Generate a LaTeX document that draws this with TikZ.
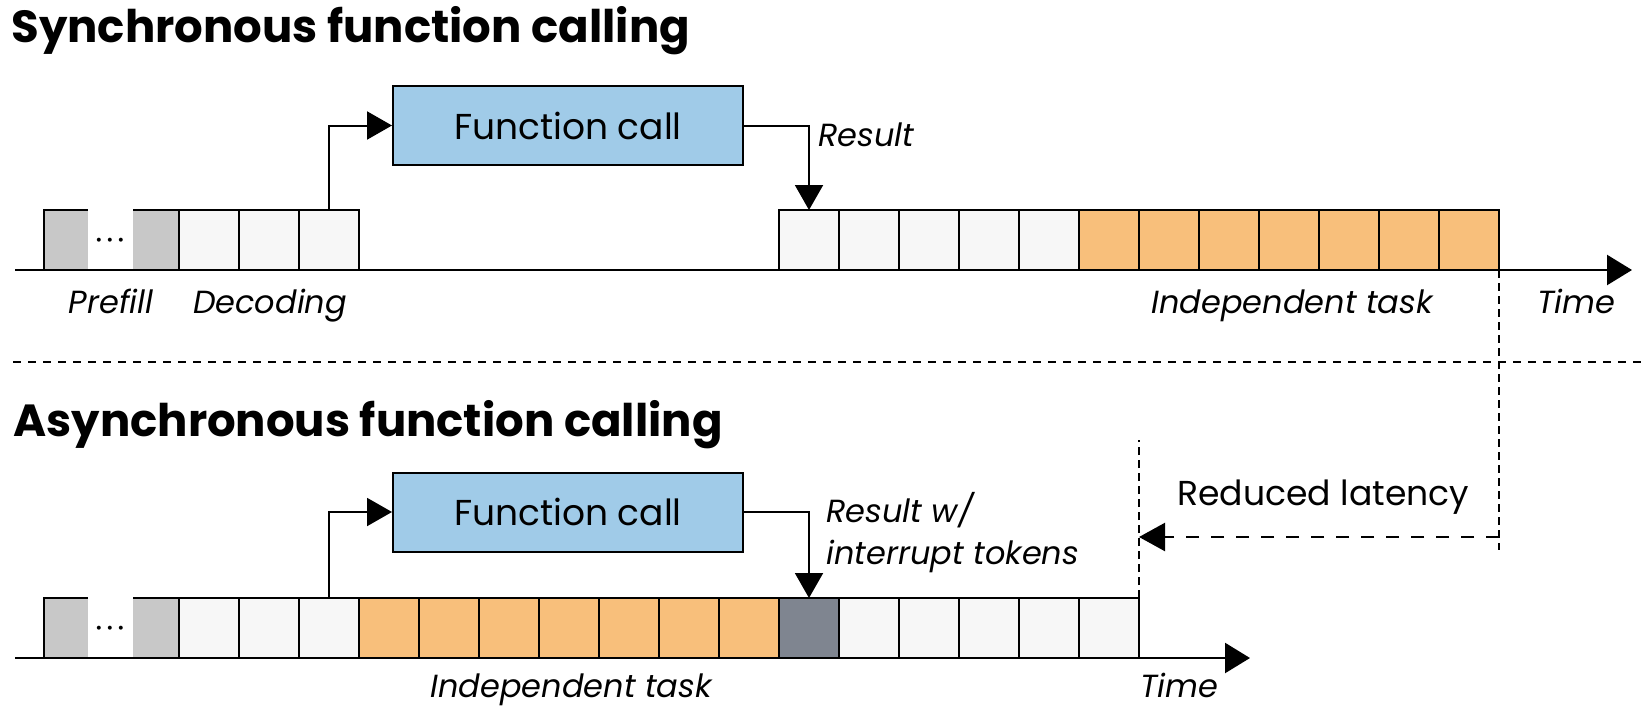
\documentclass[tikz,border=0pt]{standalone}
\usepackage{fontspec}
\setmainfont{Poppins}
\usetikzlibrary{arrows.meta}
\definecolor{callblue}{HTML}{A0CBE8}
\definecolor{taskorange}{HTML}{F8BF7B}
\definecolor{intgray}{HTML}{7F8590}
\definecolor{tokwhite}{HTML}{F7F7F7}
\definecolor{pregray}{HTML}{C8C8C8}
\tikzstyle{token} = [rectangle, draw=black, line width=1pt, minimum width=30pt, minimum height=30pt, inner sep=0pt, outer sep=0pt, fill=tokwhite]
\tikzstyle{tasktok} = [token, fill=taskorange]
\tikzstyle{inttok} = [token, fill=intgray]
\tikzstyle{pretok} = [rectangle, fill=pregray, minimum height=30pt, inner sep=0pt, outer sep=0pt]
\tikzstyle{dotsnode} = [inner sep=0pt, font=\fontsize{8}{8}\selectfont]
\tikzstyle{callnode} = [rectangle, draw=black, line width=1pt, fill=callblue, minimum width=175pt, minimum height=39.5pt, font=\fontsize{18}{20}\selectfont]
\tikzstyle{heading} = [inner sep=0pt, anchor=base west, font=\fontsize{22.5}{27}\selectfont\bfseries]
\tikzstyle{tlabel} = [inner sep=0pt, anchor=base, font=\fontsize{16}{21}\selectfont\itshape]
\tikzstyle{arrow} = [line width=1pt, -{Triangle[length=12.5pt,width=14pt]}]
\tikzstyle{timeline} = [line width=1.2pt, -{Triangle[length=12.5pt,width=15pt]}]
\tikzstyle{guide} = [line width=1.2pt, dash pattern=on 4pt off 2.5pt]
\tikzstyle{separator} = [line width=1pt, dash pattern=on 4pt off 3.5pt]
\tikzstyle{latency} = [line width=1.2pt, dash pattern=on 6.5pt off 6pt, -{Triangle[length=13pt,width=14pt]}]

\newcommand{\tokdots}{\textbullet\hspace{2.2pt}\textbullet\hspace{2.2pt}\textbullet}

\begin{document}
\begin{tikzpicture}[x=0.5pt, y=-0.5pt]
        \useasboundingbox (0,0) rectangle (1647,706);

        % synchronous
        \node (syncT) [heading] at (11,43) {Synchronous function calling};
        \node (preA1) [pretok, minimum width=22pt] at (66,240) {};
        \node (preA2) [pretok, minimum width=23pt] at (156,240) {};
        \node (dotsA) [dotsnode] at (110,242) {\tokdots};
        \foreach \i in {0,...,2,10,11,...,14}
            \node (a\i) [token] at (209+60*\i,240) {};
        \foreach \i in {15,...,21}
            \node (a\i) [tasktok] at (209+60*\i,240) {};
        \node (fcA) [callnode] at (568,125.5) {Function call};
        \coordinate (tA0) at (15,270);
        \coordinate (tA1) at (1632,270);

        \draw [line width=1pt] (preA1.south west) |- (preA1.north east);
        \draw [line width=1pt] (preA2.north west) -- (preA2.north east);
        \draw [timeline] (tA0) -- (tA1);
        \draw [arrow] (a2.north) |- (fcA.west);
        \draw [arrow] (fcA.east) -| (a10.north);

        \node (resA) [tlabel, anchor=base west] at (818,147) {Result};
        \node (preL) [tlabel] at (111,313) {Prefill};
        \node (decL) [tlabel] at (270,313) {Decoding};
        \node (indA) [tlabel] at (1292,313) {Independent task};
        \node (timeA) [tlabel, anchor=base west] at (1537,313) {Time};

        \draw [separator] (13,362) -- (1647,362);

        % asynchronous
        \node (asyncT) [heading] at (13,436) {Asynchronous function calling};
        \node (preB1) [pretok, minimum width=22pt] at (66,628) {};
        \node (preB2) [pretok, minimum width=23pt] at (156,628) {};
        \node (dotsB) [dotsnode] at (110,630) {\tokdots};
        \foreach \i in {0,...,2,11,12,...,15}
            \node (b\i) [token] at (209+60*\i,628) {};
        \foreach \i in {3,...,9}
            \node (b\i) [tasktok] at (209+60*\i,628) {};
        \node (b10) [inttok] at (809,628) {};
        \node (fcB) [callnode] at (568,512) {Function call};
        \coordinate (tB0) at (15,658);
        \coordinate (tB1) at (1250,658);

        \draw [line width=1pt] (preB1.south west) |- (preB1.north east);
        \draw [line width=1pt] (preB2.north west) -- (preB2.north east);
        \draw [timeline] (tB0) -- (tB1);
        \draw [arrow] (b2.north) |- (fcB.west);
        \draw [arrow] (fcB.east) -| (b10.north);

        \node (resB) [tlabel, anchor=north west, align=left] at (826,492) {Result w/\\interrupt tokens};
        \node (indB) [tlabel] at (571,697) {Independent task};
        \node (timeB) [tlabel, anchor=base west] at (1140,697) {Time};

        % latency
        \coordinate (guideR) at (1499,550);
        \coordinate (guideL) at (1139,440);
        \coordinate (latS) at (1499,537);
        \coordinate (latE) at (1139,537);
        \draw [guide] (a21.south east) -- (guideR);
        \draw [guide] (b15.north east) -- (guideL);
        \draw [latency] (latS) -- (latE);
        \node (latL) [anchor=base west, inner sep=0pt, font=\fontsize{17.3}{20}\selectfont] at (1177,505) {Reduced latency};
\end{tikzpicture}
\end{document}
